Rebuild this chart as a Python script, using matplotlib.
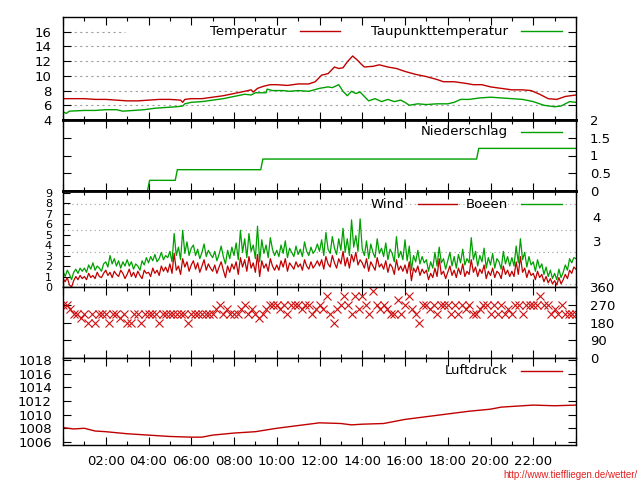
import numpy as np
import matplotlib
matplotlib.use("Agg")
import matplotlib.pyplot as plt
from matplotlib.lines import Line2D

# ---------------- data ----------------
time_tick_labels = ["", "02:00", "04:00", "06:00", "08:00", "10:00", "12:00",
                    "14:00", "16:00", "18:00", "20:00", "22:00", ""]

temp_hours = [0.0, 0.5, 1.0, 1.5, 2.0, 2.5, 3.0, 3.5, 4.0, 4.5, 5.0, 5.5, 5.6, 5.7,
              6.0, 6.5, 7.0, 7.5, 8.0, 8.5, 8.8, 8.9, 9.1, 9.4, 9.7, 10.0, 10.5,
              11.0, 11.5, 11.8, 12.1, 12.4, 12.7, 12.9, 13.1, 13.3, 13.55, 13.75,
              13.95, 14.1, 14.5, 14.8, 15.2, 15.6, 16.0, 16.5, 17.0, 17.5, 17.8,
              18.3, 18.8, 19.2, 19.6, 20.0, 20.5, 21.0, 21.5, 21.9, 22.3, 22.7,
              23.1, 23.5, 24.0]
temperature = [6.9, 6.9, 6.9, 6.8, 6.8, 6.7, 6.6, 6.6, 6.7, 6.8, 6.8, 6.7, 6.4, 6.8,
               6.9, 6.9, 7.1, 7.3, 7.6, 7.9, 8.1, 7.8, 8.3, 8.6, 8.8, 8.8, 8.7,
               8.9, 8.9, 9.2, 10.1, 10.3, 11.2, 11.0, 11.1, 11.9, 12.7, 12.2,
               11.6, 11.2, 11.3, 11.5, 11.2, 11.0, 10.6, 10.2, 9.9, 9.5, 9.2,
               9.2, 9.0, 8.8, 8.8, 8.5, 8.3, 8.1, 8.1, 8.0, 7.5, 6.9,
               6.8, 7.2, 7.4]

dew_hours = [0.0, 0.15, 0.3, 1.0, 1.5, 2.0, 2.5, 2.8, 3.3, 3.8, 4.3, 4.8, 5.3, 5.6,
             5.7, 6.0, 6.5, 7.0, 7.5, 8.0, 8.5, 8.8, 9.0, 9.5, 9.55, 9.8, 10.3,
             10.6, 11.0, 11.5, 12.0, 12.4, 12.6, 12.9, 13.1, 13.3, 13.5, 13.7,
             13.9, 14.1, 14.3, 14.6, 14.9, 15.2, 15.5, 15.8, 16.0, 16.2, 16.6,
             17.0, 17.5, 18.0, 18.3, 18.6, 19.0, 19.5, 20.0, 20.5, 21.0, 21.5,
             22.0, 22.5, 23.0, 23.3, 23.7, 24.0]
dewpoint = [5.1, 4.9, 5.2, 5.3, 5.3, 5.4, 5.4, 5.2, 5.3, 5.4, 5.6, 5.7, 5.8, 5.9,
            6.2, 6.4, 6.5, 6.7, 6.9, 7.2, 7.5, 7.4, 7.7, 7.7, 8.2, 8.0, 8.0,
            7.9, 8.0, 7.9, 8.3, 8.5, 8.4, 8.8, 7.9, 7.3, 7.9, 7.6,
            7.8, 7.2, 6.6, 6.9, 6.5, 6.8, 6.5, 6.7, 6.4, 6.0, 6.2,
            6.1, 6.2, 6.2, 6.4, 6.8, 6.8, 7.0, 7.1, 7.0, 6.9, 6.8,
            6.5, 6.0, 5.8, 5.9, 6.5, 6.4]

rain_hours = [0.0, 3.95, 4.05, 5.25, 5.35, 9.25, 9.35, 19.35, 19.45, 24.0]
rain_total = [0.0, 0.0, 0.3, 0.3, 0.6, 0.6, 0.9, 0.9, 1.2, 1.2]

# wind every 6 minutes (10 values per hour) + final value at 24:00
wind = [0.8, 0.5, 0.9, 0.2, 0.0, 0.6, 1.0, 0.7, 1.1, 0.8,
        1.0, 0.7, 1.3, 0.9, 1.1, 0.8, 1.4, 1.0, 0.9, 1.3,
        1.6, 1.1, 1.4, 0.9, 1.5, 1.2, 1.0, 1.6, 1.3, 0.8,
        1.2, 1.7, 1.0, 1.4, 0.9, 1.5, 1.1, 0.8, 1.6, 1.3,
        1.4, 1.0, 1.8, 1.3, 1.6, 1.1, 2.0, 1.5, 1.9, 1.4,
        2.2, 1.3, 3.2, 1.6, 2.0, 1.2, 2.7, 1.9, 2.4, 1.5,
        2.1, 2.5, 1.7, 2.3, 1.4, 2.0, 2.6, 1.6, 2.2, 1.8,
        1.5, 2.1, 1.3, 1.9, 2.4, 1.6, 0.9, 2.0, 1.4, 2.2,
        1.7, 2.4, 1.2, 2.8, 1.9, 2.6, 1.5, 2.9, 1.8, 2.3,
        1.4, 3.1, 1.0, 2.5, 1.8, 2.2, 1.5, 2.7, 2.0, 1.6,
        2.1, 1.6, 2.5, 1.9, 2.7, 1.5, 2.3, 2.0, 1.7, 2.4,
        1.9, 2.2, 1.6, 2.6, 2.0, 1.7, 2.4, 1.8, 2.1, 2.5,
        2.0, 2.6, 1.7, 2.9, 2.2, 1.9, 3.0, 2.3, 1.8, 2.7,
        2.2, 3.4, 2.0, 2.8, 1.8, 3.1, 2.4, 3.3, 2.1, 2.6,
        2.3, 1.8, 2.7, 1.5, 2.4, 2.0, 1.6, 2.8, 1.9, 2.2,
        1.7, 2.5, 1.4, 2.2, 1.9, 1.2, 2.6, 1.6, 2.0, 1.5,
        2.1, 1.3, 2.4, 0.6, 1.8, 1.4, 2.0, 1.1, 1.7, 1.3,
        1.6, 0.7, 1.3, 0.9, 1.8, 1.0, 2.7, 1.2, 1.5, 0.8,
        1.4, 2.0, 1.1, 1.6, 0.9, 1.8, 1.2, 2.2, 1.0, 1.5,
        1.2, 2.6, 1.4, 1.9, 1.0, 1.7, 1.3, 2.1, 0.8, 1.5,
        1.1, 1.8, 0.9, 1.5, 1.3, 0.8, 2.0, 1.2, 1.6, 1.0,
        1.5, 1.0, 2.4, 1.2, 2.9, 1.4, 1.8, 0.9, 1.6, 1.1,
        1.3, 0.7, 1.5, 0.9, 1.2, 0.5, 1.0, 0.4, 0.8, 0.3,
        0.6, 0.2, 0.9, 0.3, 0.7, 1.2, 0.8, 1.6, 1.3, 1.9,
        1.7]
gusts = [1.5, 1.0, 1.6, 1.2, 0.7, 1.4, 1.7, 1.3, 1.8, 1.5,
         1.8, 1.4, 2.1, 1.7, 2.3, 1.6, 2.0, 1.8, 1.5, 2.2,
         2.4, 1.9, 3.0, 2.2, 2.7, 2.0, 2.5, 1.8, 2.4, 2.0,
         2.6, 2.0, 2.4, 1.7, 2.2, 2.0, 1.6, 2.5, 2.1, 2.8,
         2.3, 2.9, 2.5, 3.1, 2.4, 2.7, 3.3, 2.6, 3.0, 2.8,
         3.4, 2.4, 5.1, 3.0, 3.8, 2.6, 5.4, 3.2, 4.3, 3.0,
         3.7, 4.0, 3.0, 3.6, 2.7, 3.3, 4.1, 2.9, 3.5, 3.1,
         2.8, 3.4, 2.5, 3.1, 3.9, 2.9, 2.2, 3.5, 2.7, 3.8,
         3.0, 4.2, 2.6, 5.4, 3.3, 4.6, 2.8, 5.1, 3.4, 4.0,
         2.7, 5.8, 2.4, 4.5, 3.2, 4.0, 2.8, 4.7, 3.6, 3.0,
         3.5, 2.9, 4.0, 3.2, 4.4, 2.8, 3.7, 3.3, 2.9, 3.9,
         3.1, 3.6, 2.9, 4.3, 3.4, 3.0, 3.8, 3.2, 3.5, 4.1,
         3.4, 4.5, 3.0, 5.2, 3.6, 3.2, 4.8, 3.7, 3.1, 4.6,
         3.5, 5.6, 3.3, 4.6, 3.0, 6.4, 3.8, 4.9, 3.4, 6.5,
         3.6, 3.0, 4.4, 2.7, 4.1, 3.3, 2.8, 4.6, 3.2, 3.7,
         2.9, 4.2, 2.6, 3.6, 3.2, 2.4, 4.8, 2.8, 3.4, 2.6,
         4.5, 2.5, 3.9, 1.6, 3.0, 2.4, 3.5, 2.2, 2.9, 2.3,
         2.6, 1.5, 2.4, 1.8, 3.3, 2.0, 3.8, 2.3, 2.7, 1.7,
         2.5, 3.3, 2.0, 2.9, 1.8, 3.1, 2.3, 3.6, 2.1, 2.7,
         2.3, 4.7, 2.6, 3.4, 2.0, 3.0, 2.4, 3.7, 1.8, 2.8,
         2.1, 3.2, 1.8, 2.7, 2.4, 1.7, 3.4, 2.2, 2.9, 2.0,
         2.8, 2.0, 3.9, 2.3, 4.6, 2.6, 3.3, 1.9, 2.9, 2.1,
         2.4, 1.5, 2.6, 1.8, 2.2, 1.2, 1.9, 1.0, 1.6, 0.8,
         1.3, 0.7, 1.7, 0.9, 1.4, 2.1, 1.6, 2.7, 2.3, 2.8,
         2.7]
wind_hours = np.arange(len(wind)) / 10.0

# wind direction every 10 minutes (6 values per hour) + final value
direction = [270, 270, 247.5, 225, 225, 202.5,
             225, 180, 225, 180, 225, 225,
             225, 180, 225, 225, 202.5, 225,
             180, 180, 225, 225, 180, 225,
             225, 225, 225, 180, 225, 225,
             225, 225, 225, 225, 225, 180,
             225, 225, 225, 225, 225, 225,
             225, 247.5, 270, 225, 247.5, 225,
             225, 225, 247.5, 270, 225, 247.5,
             225, 202.5, 225, 247.5, 270, 270,
             270, 247.5, 270, 225, 270, 270,
             270, 247.5, 270, 270, 225, 247.5,
             270, 247.5, 315, 225, 180, 247.5,
             270, 315, 270, 225, 315, 247.5,
             315, 270, 225, 337.5, 270, 247.5,
             270, 247.5, 225, 225, 292.5, 225,
             270, 315, 247.5, 225, 180, 270,
             270, 247.5, 270, 225, 270, 270,
             270, 225, 270, 225, 270, 247.5,
             270, 225, 225, 247.5, 270, 270,
             225, 270, 225, 270, 225, 247.5,
             225, 270, 270, 225, 270, 270,
             270, 270, 315, 270, 270, 225,
             247.5, 225, 270, 225, 225, 225,
             225]
dir_hours = np.arange(len(direction)) / 6.0

pres_hours = [0.0, 0.5, 1.0, 1.5, 2.0, 3.0, 4.0, 5.0, 6.0, 6.5, 7.0, 8.0, 9.0,
              10.0, 11.0, 12.0, 13.0, 13.5, 14.0, 15.0, 16.0, 17.0, 18.0,
              19.0, 20.0, 20.5, 21.0, 22.0, 23.0, 24.0]
pressure = [1008.1, 1007.9, 1008.0, 1007.6, 1007.5, 1007.2, 1007.0, 1006.8,
            1006.7, 1006.7, 1007.0, 1007.3, 1007.5, 1008.0, 1008.4, 1008.8,
            1008.7, 1008.5, 1008.6, 1008.7, 1009.3, 1009.7, 1010.1, 1010.5,
            1010.8, 1011.1, 1011.2, 1011.4, 1011.3, 1011.4]

temp_ticks = [4, 6, 8, 10, 12, 14, 16]
rain_ticks = [0, 0.5, 1, 1.5, 2]
rain_tick_labels = ["0", "0.5", "1", "1.5", "2"]
wind_ticks = [0, 1, 2, 3, 4, 5, 6, 7, 8, 9]
beaufort_grid = [0.3, 3.3, 5.4, 7.9]
beaufort_label_pos = [4.35, 6.65]
beaufort_labels = ["3", "4"]
dir_ticks = [0, 90, 180, 270, 360]
pres_ticks = [1006, 1008, 1010, 1012, 1014, 1016, 1018]

# ---------------- style ----------------
plt.rcParams['font.family'] = ['DejaVu Sans']
FS = 9.5
RED = '#c00000'
GREEN = '#00a000'
GRID = '#a0a0a0'

fig = plt.figure(figsize=(6.4, 4.8), dpi=100)
fig.patch.set_facecolor('white')
X0, X1 = 63, 576


def panel(top, bot):
    ax = fig.add_axes([X0 / 640, 1 - bot / 480, (X1 - X0) / 640, (bot - top) / 480])
    ax.set_xlim(0, 24)
    ax.set_xticks(range(0, 25, 2))
    ax.set_xticks(range(0, 25, 1), minor=True)
    ax.tick_params(axis='x', which='both', direction='in', top=True, bottom=True,
                   labelbottom=False)
    ax.tick_params(axis='x', which='major', length=6, width=0.8)
    ax.tick_params(axis='x', which='minor', length=3, width=0.8)
    ax.tick_params(axis='y', direction='in', length=6, width=0.8, labelsize=FS, pad=8)
    for s in ax.spines.values():
        s.set_linewidth(1.0)
    return ax


def key(text, text_right, x0, x1, y_px, color):
    y = 1 - y_px / 480
    fig.text(text_right / 640, y, text, ha='right', va='center', fontsize=FS)
    fig.add_artist(Line2D([x0 / 640, x1 / 640], [y, y], transform=fig.transFigure,
                          color=color, lw=1.0))


# Temperature
ax1 = panel(17, 120)
ax1.set_ylim(4, 18)
ax1.set_yticks(temp_ticks)
ax1.tick_params(axis='y', left=True, right=True)
for g in temp_ticks[1:-1]:
    ax1.axhline(g, color=GRID, lw=0.8, ls=(0, (2, 3)), zorder=0)
ax1.axhline(temp_ticks[-1], xmax=0.12, color=GRID, lw=0.8, ls=(0, (2, 3)), zorder=0)
ax1.plot(temp_hours, temperature, color=RED, lw=1.0)
ax1.plot(dew_hours, dewpoint, color=GREEN, lw=1.0)
ax1.spines['bottom'].set_linewidth(2)
key("Temperatur", 287, 300, 340, 31, RED)
key("Taupunkttemperatur", 508, 521, 562, 31, GREEN)

# Precipitation
ax2 = panel(120, 191)
ax2.set_ylim(0, 2)
ax2.set_yticks(rain_ticks)
ax2.set_yticklabels(rain_tick_labels)
ax2.tick_params(axis='y', left=True, right=True, labelleft=False, labelright=True, pad=10)
ax2.plot(rain_hours, rain_total, color=GREEN, lw=1.0)
for s in ('top', 'bottom'):
    ax2.spines[s].set_linewidth(2)
key("Niederschlag", 508, 521, 562, 132, GREEN)

# Wind
ax3 = panel(191, 287)
ax3.set_ylim(0, 9.15)
ax3.set_yticks(wind_ticks)
ax3.tick_params(axis='y', left=True, right=True, length=5, labelsize=8)
for g in beaufort_grid:
    ax3.axhline(g, color=GRID, lw=0.8, ls=(0, (1, 3)), zorder=0)
ax3.plot(wind_hours, gusts, color=GREEN, lw=0.9)
ax3.plot(wind_hours, wind, color=RED, lw=0.9)
ax3.spines['top'].set_linewidth(2)
ax3b = ax3.twinx()
ax3b.set_ylim(0, 9.15)
ax3b.set_yticks(beaufort_label_pos)
ax3b.set_yticklabels(beaufort_labels)
ax3b.tick_params(axis='y', length=0, labelsize=FS, pad=12)
for s in ax3b.spines.values():
    s.set_visible(False)
key("Wind", 404, 418, 457, 204, RED)
key("Boeen", 508, 521, 562, 204, GREEN)

# Wind direction
ax4 = panel(287, 358)
ax4.set_ylim(0, 360)
ax4.set_yticks(dir_ticks)
ax4.tick_params(axis='y', left=True, right=True, labelleft=False, labelright=True, pad=10)
ax4.plot(dir_hours, direction, ls='none', marker='x', ms=6, mew=0.8, color='#d01010')

# Pressure
ax5 = panel(358, 445)
ax5.set_ylim(1005.55, 1018.3)
ax5.set_yticks(pres_ticks)
ax5.tick_params(axis='y', left=True, right=True)
ax5.plot(pres_hours, pressure, color=RED, lw=1.0)
ax5.set_xticklabels(time_tick_labels)
ax5.tick_params(axis='x', which='major', labelbottom=True, labelsize=FS, pad=7)
key("Luftdruck", 508, 521, 562, 371, RED)

fig.text(638 / 640, 1 - 475 / 480, "http://www.tieffliegen.de/wetter/", ha='right',
         va='center', fontsize=7, color='#e02020', family=['Liberation Sans', 'DejaVu Sans'])

fig.savefig("out.png", dpi=100)
